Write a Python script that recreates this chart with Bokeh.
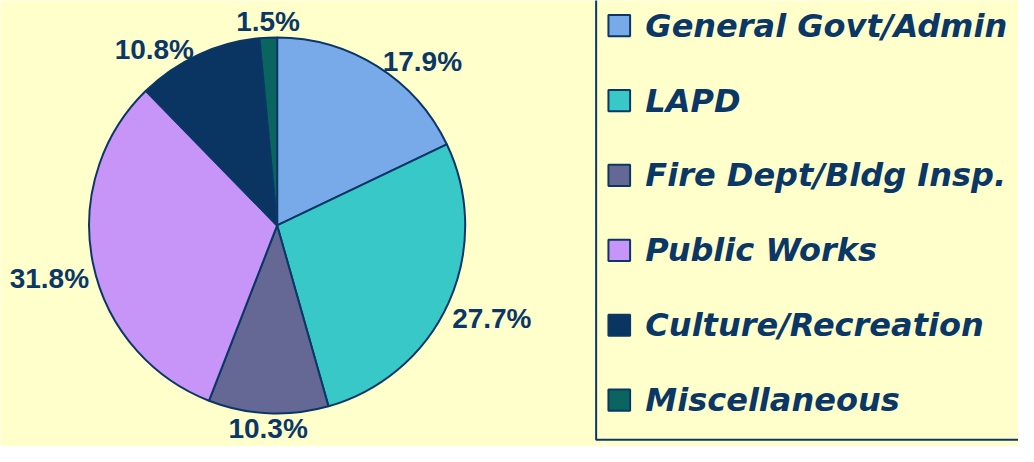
import numpy as np
from bokeh.plotting import figure
from bokeh.models import Range1d, ColumnDataSource
from bokeh.embed import file_html
from bokeh.resources import INLINE
from bokeh.core.properties import value

# ---- data ----
categories = ["General Govt/Admin", "LAPD", "Fire Dept/Bldg Insp.",
              "Public Works", "Culture/Recreation", "Miscellaneous"]
shares = [17.9, 27.7, 10.3, 31.8, 10.8, 1.5]
colors = ["#78A9E9", "#39C8C8", "#656894", "#C795F7", "#0A3562", "#0A6560"]
pct_labels = [f"{v:.1f}%" for v in shares]

NAVY = "#0B3766"
BG = "#FFFFCC"

# ---- figure: layout space of 1034 x 462 units, y measured upward ----
W, H = 1018, 446
SW, SH = 1034, 462
p = figure(width=W, height=H, output_backend="svg", toolbar_location=None,
           x_range=Range1d(0, SW), y_range=Range1d(0, SH),
           min_border=0, background_fill_color=BG, border_fill_color=BG)
p.axis.visible = False
p.grid.visible = False
p.outline_line_color = None

# ---- pie ----
cx, cy, R = 281, SH - 233, 191
frac = np.array(shares) / np.sum(shares)
cum_end = np.cumsum(frac)
cum_start = cum_end - frac
start = np.pi / 2 - 2 * np.pi * cum_end
end = np.pi / 2 - 2 * np.pi * cum_start
src = ColumnDataSource(dict(start=start, end=end, color=colors))
p.wedge(x=cx, y=cy, radius=R, start_angle="start", end_angle="end",
        direction="anticlock", fill_color="color", line_color=NAVY,
        line_width=2, source=src)

# ---- percentage labels (outside end) ----
theta = 2 * np.pi * (cum_start + frac / 2)
s, c = np.sin(theta), np.cos(theta)
align = ["left" if v > 0.3 else ("right" if v < -0.3 else "center") for v in s]
base = ["bottom" if v > 0.95 else ("top" if v < -0.15 else "middle") for v in c]
off = np.array([R + 10 if b == "middle" else R + 4 for b in base])
lx = cx + off * s
ly = cy + off * c
lsrc = ColumnDataSource(dict(x=lx, y=ly, t=pct_labels, a=align, b=base))
p.text(x="x", y="y", text="t", text_align="a", text_baseline="b", source=lsrc,
       text_font=value("Liberation Sans"), text_font_style="bold",
       text_font_size="28px", text_color=NAVY)

# ---- legend ----
n = len(categories)
ly0, lstep = 26, 77.6
leg_y = [SH - (ly0 + i * lstep) for i in range(n)]
p.quad(left=605, right=1050, bottom=SH - 455, top=SH + 10,
       fill_color=None, line_color=NAVY, line_width=2)
p.rect(x=628.5, y=leg_y, width=22, height=22, fill_color=colors,
       line_color=NAVY, line_width=2)
p.text(x=655, y=leg_y, text=categories, text_baseline="middle",
       text_font=value("DejaVu Sans"), text_font_style="bold italic",
       text_font_size="32px", text_color=NAVY)

open("out.html", "w").write(file_html(p, INLINE))
